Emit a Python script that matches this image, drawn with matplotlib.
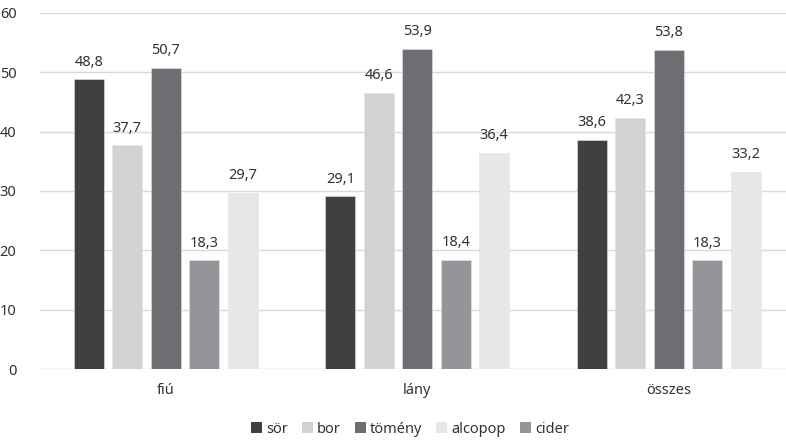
import matplotlib
matplotlib.use("Agg")
import matplotlib.pyplot as plt
from matplotlib.patches import Patch
import numpy as np

plt.rcParams['font.family'] = ['Noto Sans', 'DejaVu Sans']

groups = ["fiú", "lány", "összes"]
series_names = ["sör", "bor", "tömény", "cider", "alcopop"]
sor = [48.8, 29.1, 38.6]
bor = [37.7, 46.6, 42.3]
tomeny = [50.7, 53.9, 53.8]
cider = [18.3, 18.4, 18.3]
alcopop = [29.7, 36.4, 33.2]
colors = {"sör": "#404040", "bor": "#d1d2d4", "tömény": "#6d6e71",
          "cider": "#939598", "alcopop": "#e6e7e8"}
legend_order = ["sör", "bor", "tömény", "alcopop", "cider"]
yticks = [0, 10, 20, 30, 40, 50, 60]

values = {"sör": sor, "bor": bor, "tömény": tomeny, "cider": cider, "alcopop": alcopop}

W, H = 786, 440
fig = plt.figure(figsize=(W / 100, H / 100), dpi=100)
ax = fig.add_axes([40 / W, 71 / H, 754.5 / W, 356 / H])

x = np.arange(len(groups))
step = 0.153
bw = 0.119
text_color = "#333333"
for i, name in enumerate(series_names):
    pos = x + (i - 2) * step
    bars = ax.bar(pos, values[name], width=bw, color=colors[name],
                  edgecolor="#e4e4e4", linewidth=0.4, zorder=3)
    for b, v in zip(bars, values[name]):
        ax.annotate(f"{v:.1f}".replace(".", ","),
                    (b.get_x() + b.get_width() / 2, v),
                    xytext=(0, 7), textcoords="offset points",
                    ha="center", va="bottom", fontsize=10.5, color=text_color)

ax.set_xlim(-0.5, 2.5)
ax.set_ylim(0, 60)
ax.set_yticks(yticks)
ax.set_yticklabels([str(t) for t in yticks])
ax.set_xticks(x)
ax.set_xticklabels(groups)
ax.tick_params(axis="both", length=0, labelsize=10.5, colors=text_color)
ax.tick_params(axis="y", pad=17)
ax.tick_params(axis="x", pad=10)
ax.yaxis.grid(True, color="#d9d9d9", linewidth=1.0, zorder=0)
ax.set_axisbelow(True)
for s in ax.spines.values():
    s.set_visible(False)

handles = [Patch(facecolor=colors[n], edgecolor="none", label=n) for n in legend_order]
fig.legend(handles=handles, loc="center", bbox_to_anchor=(410 / W, 1 - 429 / H),
           ncol=5, frameon=False, fontsize=10.5, handlelength=0.75, handleheight=0.75,
           handletextpad=0.3, columnspacing=0.95, labelcolor=text_color)

fig.savefig("out.png", dpi=100)
